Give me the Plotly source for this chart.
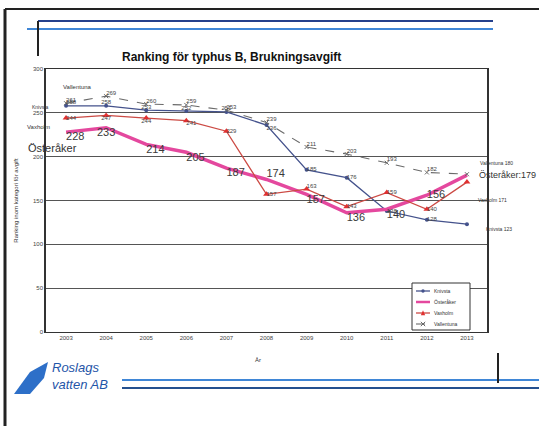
import plotly.graph_objects as go

AR = ["2003", "2004", "2005", "2006", "2007", "2008", "2009", "2010", "2011", "2012", "2013"]

KNIVSTA = [258, 258, 253, 252, 251, 236, 185, 176, 138, 128, 123]
OSTERAKER = [228, 233, 214, 205, 187, 174, 157, 136, 140, 156, 179]
VAXHOLM = [244, 247, 244, 241, 229, 157, 163, 143, 159, 140, 171]
VALLENTUNA = [261, 269, 260, 259, 253, 239, 211, 203, 193, 182, 180]

Y_TICKS = [0, 50, 100, 150, 200, 250, 300]

FONT = "Liberation Sans, Arial, sans-serif"
ROSA = "#e4489e"
ROD = "#cc4a44"
BLA = "#44528c"
GRA = "#6a6a6a"
LOGO = "#1f55a8"

# plotytan i pixlar: x 46..487, y 69..332
L, R, T, B = 46, 487, 69, 332


def px(x):
    return (x - L) / (R - L)


def py(y):
    return (B - y) / (B - T)


def etiketter(v):
    # ingen etikett vid sista året, den står i högermarginalen
    return [str(a) for a in v[:-1]] + [""]


serier = [
    # (namn, värden, linje, markör, textposition, textstorlek)
    ("Knivsta", KNIVSTA, dict(color=BLA, width=1.3), dict(size=4, color=BLA),
     ["top right", "top center", "top center", "top center", "top center",
      "bottom right", "middle right", "middle right", "middle right",
      "middle right", "middle right"], 6),
    ("Österåker", OSTERAKER, dict(color=ROSA, width=3.5), None,
     ["bottom right", "bottom center", "bottom right", "bottom right",
      "bottom right", "top right", "bottom right", "bottom right",
      "bottom right", "middle right", "middle right"], 11),
    ("Vaxholm", VAXHOLM, dict(color=ROD, width=1.3),
     dict(size=6, color="#e03030", symbol="triangle-up"),
     ["middle right", "bottom center", "bottom center", "bottom right",
      "middle right", "middle right", "top right", "middle right",
      "middle right", "middle right", "middle right"], 6),
    ("Vallentuna", VALLENTUNA, dict(color=GRA, width=1.1, dash="dash"),
     dict(size=4, color=GRA, symbol="x-thin", line=dict(width=1, color=GRA)),
     "top right", 6),
]

fig = go.Figure()
for namn, varden, linje, markor, tpos, tstorlek in serier:
    fig.add_trace(go.Scatter(x=AR, y=varden, name=namn,
                             mode="lines+markers" if markor else "lines",
                             line=linje, marker=markor, showlegend=False))
for namn, varden, linje, markor, tpos, tstorlek in serier:
    fig.add_trace(go.Scatter(x=AR, y=varden, mode="text", showlegend=False,
                             text=etiketter(varden), textposition=tpos,
                             textfont=dict(size=tstorlek,
                                           color="#3a3a3a" if tstorlek > 6 else "#444"),
                             hoverinfo="skip"))


def linje_px(x0, y0, x1, y1, farg, bredd, streck="solid"):
    fig.add_shape(type="line", xref="paper", yref="paper",
                  x0=px(x0), y0=py(y0), x1=px(x1), y1=py(y1),
                  line=dict(color=farg, width=bredd, dash=streck))


def text_px(txt, x, y, st, xa="center", farg="#333"):
    fig.add_annotation(text=txt, xref="paper", yref="paper", x=px(x), y=py(y),
                       xanchor=xa, yanchor="middle", showarrow=False,
                       font=dict(size=st, color=farg, family=FONT))


# ram och dekorlinjer på sidan
for args in [
    (5, 9, 539, 9, "#222", 2),
    (5, 9, 5, 426, "#222", 3),
    (38, 21, 493, 21, "#24408c", 2),
    (27, 29, 493, 29, "#3f86d6", 2),
    (38, 21, 38, 56, "#222", 2),
    (122, 380, 539, 380, "#3f86d6", 2),
    (122, 388, 539, 388, "#24508f", 2),
    (498, 353, 498, 383, "#222", 2),
]:
    linje_px(*args)

# enkel logga (blå våg)
fig.add_shape(type="path", xref="paper", yref="paper",
              path=f"M {px(14)},{py(394)} L {px(30)},{py(372)} L {px(48)},{py(362)} "
                   f"L {px(44)},{py(378)} L {px(30)},{py(394)} Z",
              fillcolor="#2d6fc8", line=dict(width=0))

# kompakt legend (plotlys egen blir för hög)
fig.add_shape(type="rect", xref="paper", yref="paper",
              x0=px(412), y0=py(330), x1=px(470), y1=py(283),
              fillcolor="white", line=dict(color="#333", width=1))
for i, (namn, varden, linje, markor, tpos, tstorlek) in enumerate(serier):
    yy = 291 + i * 11
    linje_px(416, yy, 430, yy, linje["color"], min(linje["width"], 2.5),
             linje.get("dash", "solid"))
    text_px(namn, 432, yy, 5, "left", "#333")
    cx, s = px(423), 2.2
    if markor and markor.get("symbol") == "triangle-up":
        fig.add_shape(type="path", xref="paper", yref="paper",
                      path=f"M {px(423 - s)},{py(yy + s)} L {px(423 + s)},{py(yy + s)} "
                           f"L {cx},{py(yy - s - 0.5)} Z",
                      fillcolor="#e03030", line=dict(width=0))
    elif markor and markor.get("symbol") == "x-thin":
        linje_px(423 - s, yy - s, 423 + s, yy + s, GRA, 1)
        linje_px(423 - s, yy + s, 423 + s, yy - s, GRA, 1)
    elif markor:
        fig.add_shape(type="circle", xref="paper", yref="paper",
                      x0=px(423 - 1.7), y0=py(yy + 1.7), x1=px(423 + 1.7), y1=py(yy - 1.7),
                      fillcolor=BLA, line=dict(width=0))

fig.add_annotation(text="<b>Ranking för typhus B, Brukningsavgift</b>", xref="paper",
                   yref="paper", x=px(231), y=py(48), showarrow=False,
                   font=dict(size=12, color="#111", family=FONT))
for args in [
    ("År", 258, 360, 6),
    ("Vallentuna", 77, 87, 6),
    ("Knivsta", 40, 107, 5),
    ("Vaxholm", 38, 127, 6),
    ("Österåker", 52, 148, 11),
    ("Vallentuna 180", 478, 163, 5, "left"),
    ("Österåker:179", 477, 175, 9, "left"),
    ("Vaxholm 171", 476, 200, 5, "left"),
    ("Knivsta 123", 484, 229, 5, "left"),
    ("<i>Roslags</i>", 50, 367, 13, "left", LOGO),
    ("<i>vatten AB</i>", 50, 384, 13, "left", LOGO),
]:
    text_px(*args)

fig.update_layout(
    width=539, height=426,
    margin=dict(l=L, r=539 - R, t=T, b=426 - B),
    paper_bgcolor="white", plot_bgcolor="white",
    font=dict(family=FONT, size=6, color="#333"),
    showlegend=False,
)
fig.update_xaxes(type="category", range=[-0.5, 10.5], showgrid=False, automargin=False,
                 showline=True, linecolor="#333", linewidth=1, mirror=True,
                 ticks="", tickfont=dict(size=6, color="#444"))
fig.update_yaxes(range=[0, 300], tickvals=Y_TICKS, showgrid=True, gridcolor="#555",
                 gridwidth=1, zeroline=False, showline=True, linecolor="#333",
                 linewidth=1.5, mirror=True, tickfont=dict(size=6, color="#444"),
                 automargin=False,
                 title=dict(text="Ranking inom kategori för avgift",
                            font=dict(size=6, color="#333"), standoff=14))

# sidans standardmarginal (8 px) flyttar annars hela bilden
fig.write_html("out.html", config={"displayModeBar": False},
               post_script="document.body.style.margin = '0';")
